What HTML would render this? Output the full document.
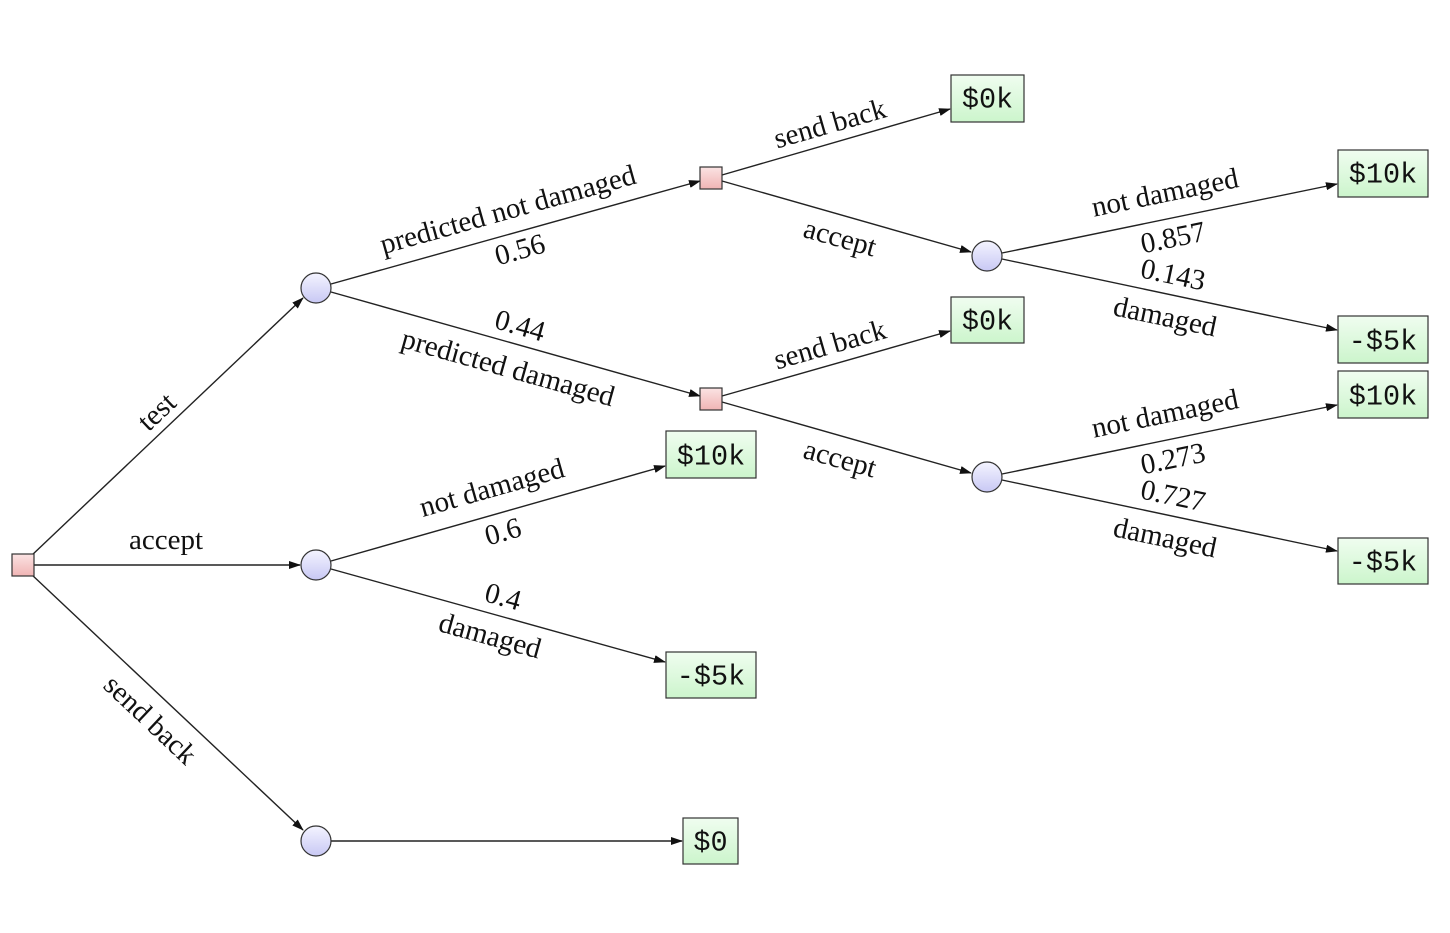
<!DOCTYPE html>
<html><head><meta charset="utf-8"><style>
html,body{margin:0;padding:0;background:#fff;}
svg text{font-family:"Liberation Serif",serif;font-size:29px;fill:#111;}
svg text.m{font-family:"Liberation Mono",monospace;font-size:28.5px;}
</style></head><body>
<svg width="1450" height="928" viewBox="0 0 1450 928" xmlns="http://www.w3.org/2000/svg">
<defs>
<linearGradient id="r" x1="0" y1="0" x2="0" y2="1"><stop offset="0" stop-color="#fbe3e3"/><stop offset="1" stop-color="#f0b4b4"/></linearGradient>
<linearGradient id="b" x1="0" y1="0" x2="0" y2="1"><stop offset="0" stop-color="#f4f4ff"/><stop offset="1" stop-color="#c8c8f4"/></linearGradient>
<linearGradient id="g" x1="0" y1="0" x2="0" y2="1"><stop offset="0" stop-color="#f0fdf0"/><stop offset="1" stop-color="#ccf5cc"/></linearGradient>
<marker id="a" markerWidth="12" markerHeight="8" refX="11" refY="4" orient="auto" markerUnits="userSpaceOnUse"><path d="M0,0 L12,4 L0,8 Z" fill="#111"/></marker>
</defs>
<g stroke="#222" stroke-width="1.4" fill="none" marker-end="url(#a)">
<line x1="31" y1="556" x2="303" y2="298"/>
<line x1="34" y1="565" x2="300" y2="565"/>
<line x1="31" y1="574" x2="303" y2="830"/>
<line x1="331" y1="284" x2="700" y2="181"/>
<line x1="331" y1="292" x2="700" y2="396"/>
<line x1="722" y1="175" x2="950" y2="109"/>
<line x1="722" y1="181" x2="971" y2="252"/>
<line x1="722" y1="396" x2="950" y2="331"/>
<line x1="722" y1="402" x2="971" y2="473"/>
<line x1="1002" y1="253" x2="1337" y2="184"/>
<line x1="1002" y1="259" x2="1337" y2="330"/>
<line x1="1002" y1="474" x2="1337" y2="405"/>
<line x1="1002" y1="480" x2="1337" y2="551"/>
<line x1="331" y1="561" x2="665" y2="466"/>
<line x1="331" y1="569" x2="665" y2="662"/>
<line x1="331" y1="841" x2="682" y2="841"/>
</g>
<g stroke="#333" stroke-width="1.2">
<rect x="12" y="554" width="22" height="22" fill="url(#r)"/>
<rect x="700" y="167" width="22" height="22" fill="url(#r)"/>
<rect x="700" y="388" width="22" height="22" fill="url(#r)"/>
<circle cx="316" cy="288" r="15" fill="url(#b)"/>
<circle cx="316" cy="565" r="15" fill="url(#b)"/>
<circle cx="316" cy="841" r="15" fill="url(#b)"/>
<circle cx="987" cy="256" r="15" fill="url(#b)"/>
<circle cx="987" cy="477" r="15" fill="url(#b)"/>
<rect x="951" y="75" width="73" height="47" fill="url(#g)"/>
<rect x="951" y="297" width="73" height="46" fill="url(#g)"/>
<rect x="1338" y="150" width="90" height="47" fill="url(#g)"/>
<rect x="1338" y="316" width="90" height="47" fill="url(#g)"/>
<rect x="1338" y="371" width="90" height="47" fill="url(#g)"/>
<rect x="1338" y="538" width="90" height="46" fill="url(#g)"/>
<rect x="666" y="431" width="90" height="47" fill="url(#g)"/>
<rect x="666" y="652" width="90" height="46" fill="url(#g)"/>
<rect x="683" y="818" width="55" height="46" fill="url(#g)"/>
</g>
<g text-anchor="middle" dominant-baseline="central">
<text class="m" x="987.5" y="100">$0k</text>
<text class="m" x="987.5" y="322">$0k</text>
<text class="m" x="1383" y="175">$10k</text>
<text class="m" x="1383" y="342">-$5k</text>
<text class="m" x="1383" y="397">$10k</text>
<text class="m" x="1383" y="563">-$5k</text>
<text class="m" x="711" y="457">$10k</text>
<text class="m" x="711" y="677">-$5k</text>
<text class="m" x="710.5" y="843">$0</text>

<text transform="translate(157,412) rotate(-43.4)">test</text>
<text x="166" y="540">accept</text>
<text transform="translate(150,720) rotate(43.4)">send back</text>

<text transform="translate(508,210) rotate(-15.6)">predicted not damaged</text>
<text transform="translate(520,250) rotate(-15.6)">0.56</text>
<text transform="translate(520,326) rotate(15.7)">0.44</text>
<text transform="translate(508,368) rotate(15.7)">predicted damaged</text>

<text transform="translate(830,124) rotate(-16)">send back</text>
<text transform="translate(840,238) rotate(15.8)">accept</text>
<text transform="translate(830,345) rotate(-16)">send back</text>
<text transform="translate(840,459) rotate(15.8)">accept</text>

<text transform="translate(1165,193) rotate(-11.6)">not damaged</text>
<text transform="translate(1173,238) rotate(-11.6)">0.857</text>
<text transform="translate(1173,275) rotate(11.9)">0.143</text>
<text transform="translate(1165,317) rotate(11.9)">damaged</text>
<text transform="translate(1165,414) rotate(-11.6)">not damaged</text>
<text transform="translate(1173,459) rotate(-11.6)">0.273</text>
<text transform="translate(1173,496) rotate(11.9)">0.727</text>
<text transform="translate(1165,538) rotate(11.9)">damaged</text>

<text transform="translate(492,488) rotate(-15.8)">not damaged</text>
<text transform="translate(503,532) rotate(-15.8)">0.6</text>
<text transform="translate(503,597) rotate(15.5)">0.4</text>
<text transform="translate(490,636) rotate(15.5)">damaged</text>
</g>
</svg>
</body></html>
